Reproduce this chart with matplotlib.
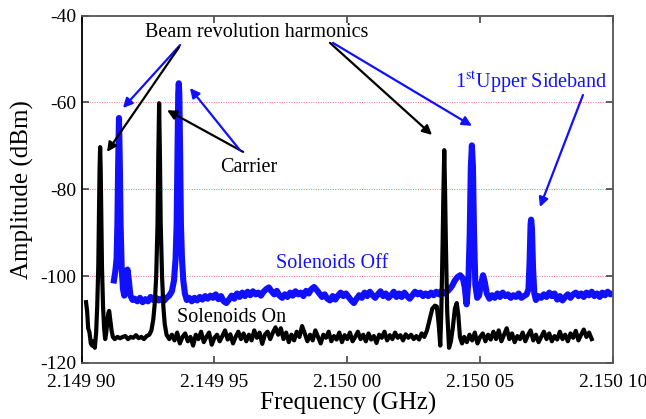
# coding:utf-8
# Spectrum of beam harmonics and carrier, solenoids on / off

import numpy as np
import matplotlib.pyplot as plt

plt.rcParams['font.family'] = ['Liberation Serif', 'DejaVu Serif']
plt.rcParams['mathtext.fontset'] = 'stix'
plt.rcParams['axes.unicode_minus'] = False

# left edge of the span (GHz); traces are stored as offset in kHz
F0 = 2.1499

# Solenoids On (black)
on_khz = [1.7, 2.1, 2.5, 3.0, 3.5, 4.0, 4.5, 5.0, 5.5, 5.9, 6.3, 6.6, 6.8, 7.0, 7.2, 7.4,
          7.7, 8.1, 8.5, 8.9, 9.3, 9.7, 10.1, 10.4, 10.8, 11.3, 11.8, 12.5, 13.5, 14.5,
          15.5, 16.5, 17.5, 18.5, 19.5, 20.5, 21.5, 22.5, 23.5, 24.5, 25.5, 26.3, 27.0,
          27.6, 28.1, 28.6, 28.9, 29.2, 29.5, 29.8, 30.3, 30.8, 31.3, 32.0,
          33, 34, 35, 36, 37, 38, 39, 40, 41, 42, 43, 44, 45, 46, 47, 48, 49, 50,
          51, 52, 53, 54, 55, 56, 57, 58, 59, 60, 61, 62, 63, 64, 65, 66, 67, 68, 69, 70,
          71, 72, 73, 74, 75, 76, 77, 78, 79, 80, 81, 82, 83, 84, 85, 86, 87, 88, 89, 90,
          91, 92, 93, 94, 95, 96, 97, 98, 99, 100, 101, 102, 103, 104, 105, 106, 107, 108,
          109, 110, 111, 112, 113, 114, 115, 116, 117, 118, 119, 120, 121, 122, 123, 124,
          125, 126, 127, 128, 129, 130, 131, 132, 133, 133.7, 134.4, 135.0, 135.4, 135.9,
          136.2, 136.5, 136.8, 137.1, 137.6, 138.3, 139.0, 139.7, 140.5, 141.2, 141.8,
          142.4, 143.2, 144, 145, 146, 147, 148, 149, 150, 151, 152, 153, 154, 155, 156,
          157, 158, 159, 160, 161, 162, 163, 164, 165, 166, 167, 168, 169, 170, 171, 172,
          173, 174, 175, 176, 177, 178, 179, 180, 181, 182, 183, 184, 185, 186, 187, 188,
          189, 190, 191, 192]
on_dbm = [-106, -108, -112, -113, -115.5, -116, -115, -116.5, -113, -107, -98, -85, -75,
          -70.3, -75, -85, -98, -107, -112, -114.5, -113, -110.5, -108.5, -108, -110,
          -112.5, -114, -114.5, -114, -114.3, -114, -113.8, -114.5, -114, -114.2, -113.6,
          -114.3, -114, -114.5, -113.8, -113.5, -112.5, -110, -106, -100, -88, -72, -60.2,
          -72, -88, -100, -107, -111, -113.5,
          -114.5, -113.5, -114.8, -113, -115.5, -114, -113.2, -115, -114, -116, -113.5,
          -114.5, -112.8, -115.2, -114, -113, -115.8, -114.2, -113.5, -115, -113.8, -112.5,
          -114.6, -113.4, -115.5, -114, -112.8, -114.5, -113.2, -115, -113.5, -114.8,
          -112.5, -114.2, -113, -115.6, -113.5, -112.8, -114.5, -113, -111.8, -113.5, -112,
          -114.5, -113, -115.2, -113.5, -114.8, -112.8, -114, -111.5, -113.2, -115, -113.5,
          -114.8, -112.5, -114, -115.5, -113.5, -114.2, -112.8, -115, -113.8, -114.6, -113,
          -115.2, -113.6, -114.5, -113, -115, -114, -112.8, -114.5, -113.5, -115, -113.2,
          -114.6, -113.8, -115.4, -113.5, -114.2, -112.8, -114.8, -113.6, -114.5, -113,
          -114.2, -113.6, -114.8, -113.4, -114.2, -113.5, -114.5, -113.8, -114.6, -113.2,
          -114, -112.5, -110, -107.5, -106.8, -107, -111, -116, -108, -92, -80, -71, -80,
          -92, -108, -116.5, -115, -112, -107.5, -106.2, -109, -114, -115.5,
          -114, -115.2, -113.5, -114.8, -113, -115.5, -114, -113.2, -115, -113.5, -114.6,
          -112.8, -114.5, -112.5, -115, -113.5, -112, -114.5, -113.2, -115.2, -113.8,
          -114.5, -113, -115, -113.6, -112.5, -114.8, -113.5, -115.2, -114, -112.8, -114.5,
          -113.2, -115, -113.8, -114.6, -112.8, -114.5, -113.5, -115, -113.2, -114.2,
          -112.6, -114.8, -113.5, -112.3, -114, -113, -114.5]

# Solenoids Off (blue)
off_khz = [12.2, 12.7, 13.2, 13.5, 13.8, 14.1, 14.4, 14.7, 15.1, 15.6, 16.1, 16.8, 17.3,
           17.8, 18.4, 19.2, 20, 21, 22, 23, 24, 25, 26, 27, 28, 29, 30, 31, 32, 33, 34,
           34.8, 35.4, 35.8, 36.1, 36.4, 36.6, 36.8, 37.1, 37.4, 37.8, 38.3, 38.9, 39.6,
           40.5, 41.5, 42.5, 43.5, 44.5, 45.5, 46.5, 47.5, 48.5, 49.5, 50.5, 51.5, 52.5,
           53.5, 54.5, 55.5, 56.5, 57.5, 58.5, 59.5, 60.5, 61.5, 62.5, 63.5, 64.5, 65.5,
           66.5, 67.5, 68.5, 69.5, 70.5, 71.5, 72.5, 73.5, 74.5, 75.5, 76.5, 77.5, 78.5,
           79.5, 80.5, 81.5, 82.5, 83.5, 84.5, 85.5, 86.5, 87.5, 88.5, 89.5, 90.5, 91.5,
           92.5, 93.5, 94.5, 95.5, 96.5, 97.5, 98.5, 99.5, 100.5, 101.5, 102.5, 103.5,
           104.5, 105.5, 106.5, 107.5, 108.5, 109.5, 110.5, 111.5, 112.5, 113.5, 114.5,
           115.5, 116.5, 117.5, 118.5, 119.5, 120.5, 121.5, 122.5, 123.5, 124.5, 125.5,
           126.5, 127.5, 128.5, 129.5, 130.5, 131.5, 132.5, 133.5, 134.5, 135.5, 136.5,
           137.5, 138.5, 139.5, 140.5, 141.5, 142.5, 143.5, 144.2, 144.9, 145.6, 146.1,
           146.5, 146.9, 147.3, 147.7, 148.2, 148.9, 149.6, 150.3, 151.1, 151.8, 152.5,
           153.5, 154.5, 155.5, 156.5, 157.5, 158.5, 159.5, 160.5, 161.5, 162.5, 163.5,
           164.5, 165.5, 166.5, 167.5, 168.2, 168.6, 169.0, 169.2, 169.5, 169.9, 170.4,
           171.0, 172, 173, 174, 175, 176, 177, 178, 179, 180, 181, 182, 183, 184, 185, 186,
           187, 188, 189, 190, 191, 192, 193, 194, 195, 196, 197, 198, 199, 200]
off_dbm = [-101, -99, -96, -88, -74, -63.6, -74, -88, -98, -103, -104.5, -101.5, -98.5,
           -101, -104.5, -105.5, -105.2, -105.8, -105, -106, -105.3, -105.8, -104.8, -105.5,
           -105, -105.6, -105.2, -105.7, -105, -104.5, -103.5,
           -101, -96, -88, -72, -58, -55.6, -58, -72, -88, -96, -101, -104, -105.5,
           -105, -105.8, -105, -105.6, -104.8, -105.4, -104.6, -105.2, -104.5, -105, -104.2,
           -105.3, -104.6, -105.8, -106.2, -105.4, -104.5, -105.2, -104, -104.8, -103.8,
           -104.6, -103.6, -104.4, -103.5, -104.2, -103.8, -104.5, -103.6, -103, -102.6,
           -103.5, -104.2, -103.4, -104.5, -105, -104.2, -104.8, -103.8, -104.5, -103.5,
           -104.2, -103.8, -104.6, -103.4, -104, -103, -102.5, -103.2, -104, -104.8, -104.2,
           -105.2, -105.6, -104.6, -105.4, -104.5, -103.8, -104.6, -104, -104.8, -105.6,
           -106.2, -105.2, -104.4, -105, -103.8, -104.6, -103.6, -104.4, -105, -104.2,
           -103.5, -104.6, -104, -105, -104.4, -103.6, -104.8, -104, -104.8, -103.8, -104.6,
           -105.2, -104.4, -103.6, -104.2, -103.8, -104.6, -104, -104.6, -103.8, -104.4,
           -103.6, -104.2, -103.4, -104, -103.6, -103, -102.2, -101, -100.2, -99.8, -100.5,
           -102.5, -106.5, -101, -90, -75, -69.9, -75, -90, -102, -105, -104.5, -102, -99.8,
           -101.5, -104, -105.2, -104.4, -105, -104, -104.8, -103.8, -104.6, -104.2, -105,
           -104.4, -104.8, -104, -105, -104.6, -104.2, -103, -97, -88, -87.0, -89, -98,
           -104, -105.5, -104.6, -105, -104.2, -104.8, -103.8, -104.6, -104, -105.4, -104.6,
           -105.6, -104.8, -104.2, -105, -104.2, -103.8, -104.6, -104, -104.8, -103.8,
           -104.4, -103.6, -104.6, -104, -104.8, -103.8, -104.4, -103.6, -104.2, -104]

xticks = [2.14990, 2.14995, 2.15000, 2.15005, 2.15010]
xtick_labels = ["2.149 90", "2.149 95", "2.150 00", "2.150 05", "2.150 10"]
yticks = [-120, -100, -80, -60, -40]
grid_levels = [-60, -80, -100]


def ghz(khz):
    return F0 + np.asarray(khz) * 1e-6


fig = plt.figure(figsize=(6.46, 4.19), dpi=100)
ax = fig.add_axes([0.1262, 0.1337, 0.8227, 0.8293])

for g in grid_levels:
    ax.axhline(g, color="#ff7070", lw=0.7, ls=(0, (1, 1.5)), zorder=0)

ax.plot(ghz(off_khz), off_dbm, color="#1010ff", lw=4.4, solid_joinstyle="round")
ax.plot(ghz(on_khz), on_dbm, color="black", lw=3.0, solid_joinstyle="round")

ax.set_xlim(xticks[0], xticks[-1])
ax.set_ylim(-120, -40)
ax.set_xticks(xticks)
ax.set_xticklabels(xtick_labels)
ax.set_yticks(yticks)
ax.tick_params(direction="in", top=True, right=True, length=5, width=1.2,
               labelsize=14, color="#444444")
ax.tick_params(axis="x", pad=8)
ax.tick_params(axis="y", pad=4)
for sp in ax.spines.values():
    sp.set_color("#555555")
    sp.set_linewidth(1.3)
ax.spines["left"].set_color("black")

fig.text(22 / 646, 1 - 190 / 419, "Amplitude (dBm)", rotation=90,
         ha="center", va="center", fontsize=18)
fig.text(348 / 646, 1 - 403 / 419, "Frequency (GHz)", ha="center", va="center",
         fontsize=18)


# arrows: start (kHz, dBm) -> head (kHz, dBm)
def arrow(k0, a0, k1, a1, c):
    ax.annotate("", xy=(ghz(k1), a1), xytext=(ghz(k0), a0),
                arrowprops=dict(arrowstyle="-|>", color=c, lw=1.6,
                                mutation_scale=14, shrinkA=0, shrinkB=0))


arrow(37.1, -46.8, 15.6, -61.3, "#1010ff")
arrow(36.7, -47.3, 9.6, -71.4, "black")
arrow(93.5, -46.3, 131.9, -67.5, "black")
arrow(94.6, -46.3, 146.9, -65.4, "#1010ff")
arrow(60.8, -71.4, 32.2, -61.8, "black")
arrow(59.6, -71.0, 40.8, -56.7, "#1010ff")
arrow(188.7, -58.3, 172.5, -84.1, "#1010ff")

ax.text(ghz(66.1), -44.0, "Beam revolution harmonics", ha="center", va="center",
        fontsize=14.5)
ax.text(ghz(63.0), -74.9, "Carrier", ha="center", va="center", fontsize=14.5)
ax.text(ghz(140.5), -55.3, r"1$^{\rm st}$Upper Sideband", ha="left", va="center",
        fontsize=14.5, color="#1010ff")
ax.text(ghz(94.3), -97.0, "Solenoids Off", ha="center", va="center", fontsize=14.5,
        color="#1010ff")
ax.text(ghz(56.3), -109.6, "Solenoids On", ha="center", va="center", fontsize=14.5)

plt.savefig("out.png", dpi=100)
plt.close()
